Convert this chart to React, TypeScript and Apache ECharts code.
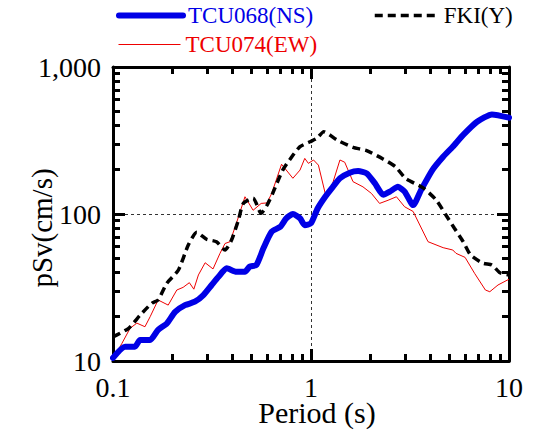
import React, { useEffect, useRef } from "react";
import * as echarts from "echarts";

// ---- Data ----
const periods068 = [0.1, 0.115, 0.129, 0.137, 0.154, 0.169, 0.187, 0.206, 0.231, 0.259, 0.286, 0.315, 0.341, 0.375, 0.42, 0.464, 0.49, 0.53, 0.575, 0.633, 0.7, 0.75, 0.81, 0.88, 0.93, 1.0, 1.08, 1.18, 1.29, 1.4, 1.57, 1.73, 1.91, 2.1, 2.32, 2.5, 2.75, 2.97, 3.28, 3.6, 4.1, 4.65, 5.2, 5.87, 6.9, 8.2, 10];
const psv068 = [10.5, 12.5, 12.5, 13.9, 13.9, 16.3, 18.0, 21.6, 24.0, 25.3, 28.1, 32.9, 37.4, 42.7, 40.5, 40.5, 43.8, 45, 58.4, 75.8, 82, 93.5, 100, 93.5, 84, 86.5, 109, 131, 153, 175, 191, 196, 189, 162, 135, 142, 153, 142, 115, 146, 199, 245, 287, 345, 424, 476, 452];

const periods074 = [0.1, 0.111, 0.122, 0.132, 0.145, 0.154, 0.169, 0.19, 0.21, 0.226, 0.243, 0.256, 0.27, 0.292, 0.32, 0.347, 0.368, 0.39, 0.42, 0.464, 0.51, 0.56, 0.6, 0.633, 0.71, 0.81, 0.88, 0.93, 0.97, 1.03, 1.09, 1.18, 1.27, 1.4, 1.48, 1.63, 1.83, 2.02, 2.22, 2.45, 2.7, 2.97, 3.28, 3.9, 4.65, 5.2, 5.4, 6.0, 6.7, 7.6, 8.0, 8.8, 10];
const psv074 = [10.3, 13.2, 16.7, 18.1, 17.1, 20.0, 26, 24, 30.4, 31.7, 34.1, 30.8, 38.5, 46.6, 42.3, 54, 63, 64.8, 86.5, 131, 106, 118, 119, 138, 218, 175, 199, 239, 221, 233, 215, 138, 153, 233, 225, 166, 153, 138, 118, 124, 131, 112, 104, 64.8, 59, 56.9, 54, 50.7, 39.5, 30.4, 29.6, 32.9, 36];

const periodsFKI = [0.1, 0.12, 0.137, 0.157, 0.169, 0.187, 0.214, 0.24, 0.265, 0.297, 0.333, 0.368, 0.397, 0.43, 0.455, 0.51, 0.56, 0.6, 0.64, 0.72, 0.8, 0.88, 0.99, 1.07, 1.16, 1.35, 1.63, 1.91, 2.32, 2.67, 3.0, 3.7, 4.3, 4.8, 5.3, 5.87, 6.4, 7.4, 8.2, 9.0, 10];
const psvFKI = [14.6, 16.7, 20.5, 24.7, 26, 33.8, 41.6, 61.5, 75, 67.3, 64.8, 56.9, 66.5, 91, 118, 128, 101, 115, 138, 199, 245, 287, 310, 327, 363, 319, 284, 270, 236, 210, 175, 150, 124, 98.5, 80, 64.8, 52.6, 46.2, 45, 39.8, 38.5];

const seriesNames = ["TCU068(NS)", "TCU074(EW)", "FKI(Y)"];
const xAxisTitle = "Period (s)";
const yAxisTitle = "pSv(cm/s)";

// Tick values
const xMajorTicks = [0.1, 1, 10];
const xMinorTicks = [0.2, 0.3, 0.4, 0.5, 0.6, 0.7, 0.8, 0.9, 2, 3, 4, 5, 6, 7, 8, 9];
const yMajorTicks = [10, 100, 1000];
const yMinorTicks = [20, 30, 40, 50, 60, 70, 80, 90, 200, 300, 400, 500, 600, 700, 800, 900];

const FONT = "Liberation Serif";
const BLUE = "#0000e6";
const RED = "#ee0000";

const pairs = (xs: number[], ys: number[]) => xs.map((x, i) => [x, ys[i]]);

function fmtX(v: number) {
  return String(Math.round(v * 10) / 10);
}
function fmtY(v: number) {
  const r = Math.round(v);
  return r >= 1000 ? r.toLocaleString("en-US") : String(r);
}

function makeAxis(
  dim: "x" | "y",
  position: string,
  ticks: number[],
  tickLen: number,
  major: boolean,
  showLabel: boolean
): any {
  const isX = dim === "x";
  return {
    type: "log",
    logBase: 10,
    min: isX ? 0.1 : 10,
    max: isX ? 10 : 1000,
    position,
    gridIndex: 0,
    axisLine: {
      show: major,
      onZero: false,
      lineStyle: { color: "#000", width: 3 },
    },
    axisTick: {
      show: true,
      inside: true,
      length: tickLen,
      customValues: ticks,
      lineStyle: { color: "#000", width: 3 },
    },
    axisLabel: {
      show: showLabel,
      customValues: isX ? xMajorTicks : yMajorTicks,
      formatter: isX ? fmtX : fmtY,
      fontFamily: FONT,
      fontSize: 28,
      lineHeight: isX ? 24 : 28,
      color: "#000",
      margin: isX ? 14 : 12,
    },
    splitLine: {
      show: major && showLabel,
      lineStyle: { color: "#333", width: 1, type: [3, 3] },
    },
    minorTick: { show: false },
    minorSplitLine: { show: false },
  };
}

export default function App() {
  const ref = useRef<HTMLDivElement>(null);

  useEffect(() => {
    if (!ref.current) return;
    const chart = echarts.init(ref.current, undefined, { renderer: "svg" });

    const xBottom = makeAxis("x", "bottom", xMajorTicks, 12, true, true);
    xBottom.name = xAxisTitle;
    xBottom.nameLocation = "middle";
    xBottom.nameGap = 38;
    xBottom.nameMoveOverlap = false;
    xBottom.nameTextStyle = {
      fontFamily: FONT,
      fontSize: 30,
      lineHeight: 26,
      color: "#000",
      padding: [0, 0, 0, 12],
    };
    const yLeft = makeAxis("y", "left", yMajorTicks, 12, true, true);

    const legendBase = {
      orient: "horizontal",
      padding: 0,
      selectedMode: false,
      itemHeight: 20,
      textStyle: { fontFamily: FONT, fontSize: 23 },
    };

    chart.setOption({
      animation: false,
      backgroundColor: "#fff",
      grid: {
        left: 113,
        right: 26,
        top: 67,
        bottom: 70,
        containLabel: false,
        outerBoundsMode: "none",
      },
      graphic: [
        {
          type: "text",
          x: 42,
          y: 228,
          rotation: Math.PI / 2,
          style: {
            text: yAxisTitle,
            fontFamily: FONT,
            fontSize: 29,
            fill: "#000",
            align: "center",
            verticalAlign: "middle",
          },
        },
      ],
      legend: [
        {
          ...legendBase,
          data: [seriesNames[0]],
          left: 116,
          top: 4,
          itemWidth: 64,
          textStyle: { ...legendBase.textStyle, color: BLUE },
          lineStyle: { width: 6, color: BLUE, type: "solid" },
          itemStyle: { opacity: 0 },
        },
        {
          ...legendBase,
          data: [seriesNames[1]],
          left: 118,
          top: 33,
          itemWidth: 62,
          textStyle: { ...legendBase.textStyle, color: RED },
          lineStyle: { width: 1, color: RED, type: "solid" },
          itemStyle: { opacity: 0 },
        },
        {
          ...legendBase,
          data: [seriesNames[2]],
          left: 373,
          top: 4,
          itemWidth: 64,
          textStyle: { ...legendBase.textStyle, color: "#000" },
          lineStyle: { width: 3.5, color: "#000", type: [8, 5] },
          itemStyle: { opacity: 0 },
        },
      ],
      xAxis: [
        xBottom,
        makeAxis("x", "bottom", xMinorTicks, 7, false, false),
        makeAxis("x", "top", xMajorTicks, 12, true, false),
        makeAxis("x", "top", xMinorTicks, 7, false, false),
      ],
      yAxis: [
        yLeft,
        makeAxis("y", "left", yMinorTicks, 7, false, false),
        makeAxis("y", "right", yMajorTicks, 12, true, false),
        makeAxis("y", "right", yMinorTicks, 7, false, false),
      ],
      series: [
        {
          name: seriesNames[1],
          type: "line",
          data: pairs(periods074, psv074),
          symbol: "none",
          showSymbol: false,
          lineStyle: { color: RED, width: 1 },
          itemStyle: { color: RED },
          z: 3,
        },
        {
          name: seriesNames[0],
          type: "line",
          data: pairs(periods068, psv068),
          symbol: "none",
          showSymbol: false,
          smooth: 0.2,
          lineStyle: { color: BLUE, width: 6, join: "round", cap: "round" },
          itemStyle: { color: BLUE },
          z: 4,
        },
        {
          name: seriesNames[2],
          type: "line",
          data: pairs(periodsFKI, psvFKI),
          symbol: "none",
          showSymbol: false,
          smooth: 0.2,
          lineStyle: { color: "#000", width: 3.5, type: [8, 5] },
          itemStyle: { color: "#000" },
          z: 5,
        },
      ],
    });

    return () => chart.dispose();
  }, []);

  return (
    <div
      ref={ref}
      style={{ position: "fixed", left: 0, top: 0, width: 535, height: 431, background: "#fff" }}
    />
  );
}
